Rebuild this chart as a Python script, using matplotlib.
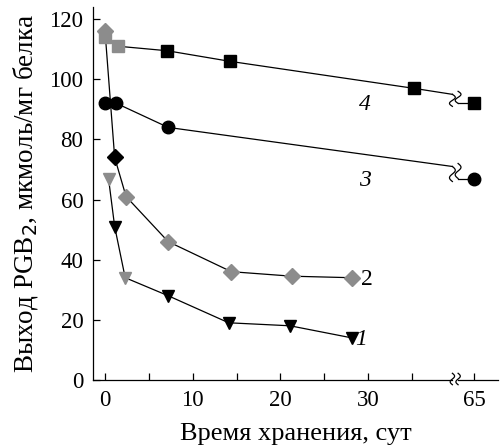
import matplotlib
matplotlib.use('Agg')
import matplotlib.pyplot as plt
import numpy as np

# values: storage time (days) vs PGB2 yield
t1 = [0.4, 1.1, 2.3, 7.2, 14.1, 21.1, 28.1]
v1 = [67, 51, 34, 28, 19, 18, 14]

t2 = [0, 1.1, 2.4, 7.2, 14.4, 21.3, 28.1]
v2 = [116, 74, 61, 46, 36, 34.5, 34]

t3 = [0, 1.3, 7.2, 65]
v3 = [92, 92, 84, 67]

t4 = [0, 1.5, 7.1, 14.2, 35.2, 65]
v4 = [114, 111, 109.5, 106, 97, 92]

# level of curves 3 and 4 where they reach the axis break
brk3 = 71
brk4 = 95

xticks = [0, 5, 10, 15, 20, 25, 30, 35, 65]
xlabels = ['0', '', '10', '', '20', '', '30', '', '65']
yticks = [0, 20, 40, 60, 80, 100, 120]

# broken x axis: 65 days is drawn right after 35
POS65 = 42.1
BRK_L, BRK_R = 39.6, 40.25


def xpos(t):
    return [POS65 if x > 40 else x for x in t]


def squiggle(ax, x0, y_top, y_bot, amp=0.33, **kw):
    s = np.linspace(0, 1, 40)
    xs = x0 + amp * np.sin(2 * np.pi * s)
    ys = y_top + (y_bot - y_top) * s
    ax.plot(xs, ys, color='black', lw=0.9, clip_on=False, **kw)


plt.rcParams['font.family'] = ['Liberation Serif', 'DejaVu Serif']

fig = plt.figure(figsize=(5, 4.48), dpi=100)
ax = fig.add_axes([0.186, 0.152, 0.81, 0.832])

gray = '#8c8c8c'

# curve 1 (triangles)
ax.plot(t1, v1, color='black', lw=0.9, zorder=2)
c1 = [gray, 'black', gray, 'black', 'black', 'black', 'black']
for x, y, c in zip(t1, v1, c1):
    ax.plot(x, y, marker='v', ms=8.5, color=c, mec=c, zorder=3)

# curve 2 (diamonds)
ax.plot(t2, v2, color='black', lw=0.9, zorder=2)
c2 = [gray, 'black', gray, gray, gray, gray, gray]
for x, y, c in zip(t2, v2, c2):
    ax.plot(x, y, marker='D', ms=8, color=c, mec=c, zorder=3)

# curves 3 and 4 with the break before the 65-day point
for t, v, brk, mk, ms in [(t3, v3, brk3, 'o', 9), (t4, v4, brk4, 's', 8)]:
    xs = xpos(t)
    ax.plot(xs[:-1] + [BRK_L], v[:-1] + [brk], color='black', lw=0.9, zorder=2)
    ax.plot([BRK_R, xs[-1]], [v[-1], v[-1]], color='black', lw=0.9, zorder=2)
    squiggle(ax, BRK_L, brk, v[-1] - 1)
    squiggle(ax, BRK_R, brk + 1, v[-1])
    cols = ['black'] * len(t)
    if mk == 's':
        cols[0] = gray
        cols[1] = gray
    for x, y, c in zip(xs, v, cols):
        ax.plot(x, y, marker=mk, ms=ms, color=c, mec=c, zorder=3)

# curve numbers
for txt, x, y, st in [('4', 29.6, 91.5, 'italic'), ('3', 29.6, 66.5, 'italic'),
                      ('2', 29.8, 33.5, 'normal'), ('1', 29.2, 13.5, 'italic')]:
    ax.text(x, y, txt, fontsize=17, style=st, ha='center', va='center')

ax.set_xlim(-1.37, 44.8)
ax.set_ylim(0, 124)

ax.spines['top'].set_visible(False)
ax.spines['right'].set_visible(False)
ax.spines['bottom'].set_bounds(-1.37, BRK_L)
ax.plot([BRK_R, 44.8], [0, 0], color='black', lw=0.9, clip_on=False)
squiggle(ax, BRK_L, 2.2, -1.6, amp=0.25)
squiggle(ax, BRK_R, 2.2, -1.6, amp=0.25)
for sp in ax.spines.values():
    sp.set_linewidth(0.9)

ax.set_xticks(xpos(xticks))
ax.set_xticklabels(xlabels)
ax.set_yticks(yticks)
ax.tick_params(direction='in', length=5, width=0.9, labelsize=16.5, pad=7)

ax.set_xlabel('Время хранения, сут', fontsize=19, labelpad=9)
ax.set_ylabel('Выход PGB$_2$, мкмоль/мг белка', fontsize=19.5, labelpad=7)

fig.savefig('out.png', dpi=100)
